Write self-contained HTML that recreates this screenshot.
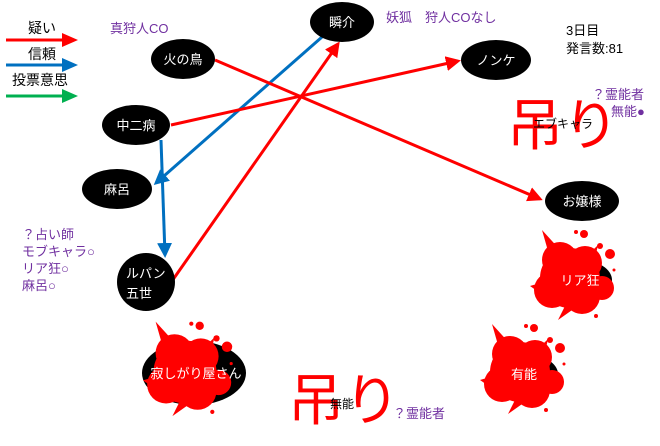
<!DOCTYPE html>
<html><head><meta charset="utf-8"><style>
body{margin:0;background:#fff;width:660px;height:441px;overflow:hidden}
text{font-family:"Liberation Sans","Noto Sans CJK JP",sans-serif}
</style></head><body>
<svg width="660" height="441" viewBox="0 0 660 441" xmlns="http://www.w3.org/2000/svg">
<defs>
<marker id="ar" markerWidth="5" markerHeight="5" refX="4" refY="2.5" orient="auto" markerUnits="strokeWidth"><path d="M0,0 L5,2.5 L0,5z" fill="#f00"/></marker>
<marker id="ab" markerWidth="5" markerHeight="5" refX="4" refY="2.5" orient="auto" markerUnits="strokeWidth"><path d="M0,0 L5,2.5 L0,5z" fill="#0070c0"/></marker>
<g id="splat">
<circle cx="0" cy="0" r="30"/>
<circle cx="-10" cy="-18" r="18"/><circle cx="15" cy="-15" r="17"/><circle cx="-18" cy="12" r="18"/><circle cx="12" cy="18" r="18"/>
<path d="M-20,-20 L-28,-48 L-8,-26z"/><path d="M20,-25 L28,-33 L24,-15z"/><path d="M-30,5 L-40,8 L-30,15z"/><path d="M-5,28 L-12,42 L5,30z"/>
<circle cx="32" cy="10" r="12"/><circle cx="14" cy="-44" r="4"/><circle cx="30" cy="-32" r="3"/><circle cx="40" cy="-24" r="5"/><circle cx="44" cy="-8" r="1.5"/><circle cx="26" cy="38" r="2"/><circle cx="6" cy="-46" r="2"/>
</g>
</defs>
<text x="28" y="33" font-size="14">疑い</text>
<line x1="6" y1="40" x2="62" y2="40" stroke="#f00" stroke-width="3"/><path d="M62,33 L78,40 L62,47z" fill="#f00"/>
<text x="28" y="59" font-size="14">信頼</text>
<line x1="6" y1="65" x2="62" y2="65" stroke="#0070c0" stroke-width="3"/><path d="M62,58 L78,65 L62,72z" fill="#0070c0"/>
<text x="12" y="85" font-size="14">投票意思</text>
<line x1="6" y1="96" x2="62" y2="96" stroke="#00b050" stroke-width="3"/><path d="M62,89 L78,96 L62,103z" fill="#00b050"/>
<g fill="#7030a0" font-size="13">
<text x="110" y="33">真狩人CO</text>
<text x="386" y="22">妖狐　狩人COなし</text>
<text x="592" y="99">？霊能者</text>
<text x="611" y="116">無能●</text>
<text x="22" y="239">？占い師</text>
<text x="22" y="256">モブキャラ○</text>
<text x="22" y="273">リア狂○</text>
<text x="22" y="290">麻呂○</text>
<text x="393" y="418">？霊能者</text>
</g>
<text x="566" y="35" font-size="13">3日目</text>
<text x="566" y="53" font-size="13">発言数:81</text>
<line x1="322" y1="37" x2="156" y2="183" stroke="#0070c0" stroke-width="3" marker-end="url(#ab)"/>
<line x1="161" y1="140" x2="165" y2="255" stroke="#0070c0" stroke-width="3" marker-end="url(#ab)"/>
<line x1="172" y1="281" x2="338" y2="44" stroke="#f00" stroke-width="3" marker-end="url(#ar)"/>
<line x1="171" y1="125" x2="458" y2="61" stroke="#f00" stroke-width="3" marker-end="url(#ar)"/>
<line x1="215" y1="60" x2="540" y2="199" stroke="#f00" stroke-width="3" marker-end="url(#ar)"/>
<g fill="#000">
<ellipse cx="342" cy="22" rx="32" ry="20"/>
<ellipse cx="183" cy="59" rx="32" ry="20"/>
<ellipse cx="496" cy="60" rx="35" ry="20"/>
<ellipse cx="136" cy="125" rx="34" ry="20"/>
<ellipse cx="117" cy="189" rx="35" ry="20"/>
<ellipse cx="582" cy="201" rx="37" ry="20"/>
<circle cx="146" cy="282" r="29"/>
<ellipse cx="194" cy="373" rx="52" ry="32"/>
<ellipse cx="580" cy="280" rx="32" ry="20"/>
<ellipse cx="524" cy="374" rx="34" ry="20"/>
</g>
<g fill="#f00">
<use href="#splat" transform="translate(570,278)"/>
<use href="#splat" transform="translate(185,372) scale(1.05)"/>
<use href="#splat" transform="translate(520,372)"/>
</g>
<g fill="#fff" font-size="13" text-anchor="middle">
<text x="342" y="27">瞬介</text>
<text x="183" y="64">火の鳥</text>
<text x="496" y="65">ノンケ</text>
<text x="136" y="130">中二病</text>
<text x="117" y="194">麻呂</text>
<text x="582" y="206">お嬢様</text>
<text x="126" y="278" text-anchor="start">ルパン</text>
<text x="126" y="298" text-anchor="start">五世</text>
<text x="196" y="378">寂しがり屋さん</text>
<text x="580" y="285">リア狂</text>
<text x="524" y="379">有能</text>
</g>
<text x="507" y="145" font-size="56" fill="#f00">吊り</text>
<text x="533" y="128" font-size="12">エブキャラ</text>
<text x="288" y="420" font-size="56" fill="#f00">吊り</text>
<text x="330" y="408" font-size="12">無能</text>
</svg>
</body></html>
